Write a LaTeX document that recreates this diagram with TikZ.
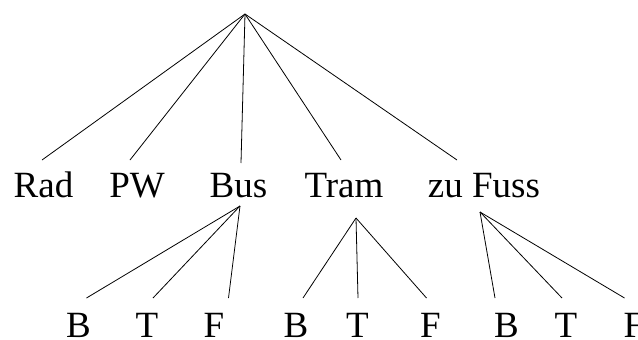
\documentclass[tikz,border=0pt]{standalone}
\usepackage{fontspec}
\setmainfont{Liberation Serif}
\begin{document}
\begin{tikzpicture}[x=1pt,y=-1pt,
  lbl/.style={inner sep=0pt,anchor=base,font=\fontsize{37}{40}\selectfont},
  edge/.style={line width=0.8pt}]
\useasboundingbox (0,0) rectangle (638,340);
% root
\coordinate (root) at (245,14);
% first level labels
\node[lbl] (rad) at (43.5,197) {Rad};
\node[lbl] (pw) at (137,197) {PW};
\node[lbl] (bus) at (238.5,197) {Bus};
\node[lbl] (tram) at (344,197) {Tram};
\node[lbl] (fuss) at (484,197) {zu Fuss};
% line ends above labels
\coordinate (radT) at (42,160);
\coordinate (pwT) at (130,160);
\coordinate (busT) at (241,163);
\coordinate (tramT) at (341,160);
\coordinate (fussT) at (457,160);
\foreach \c in {radT,pwT,busT,tramT,fussT} \draw[edge] (root) -- (\c);
% sub apexes
\coordinate (busA) at (240,206);
\coordinate (tramA) at (356,218);
\coordinate (fussA) at (480,212);
% second level labels
\node[lbl] (b1) at (78.5,337) {B};
\node[lbl] (t1) at (147,337) {T};
\node[lbl] (f1) at (214,337) {F};
\node[lbl] (b2) at (296,337) {B};
\node[lbl] (t2) at (357.5,337) {T};
\node[lbl] (f2) at (430.5,337) {F};
\node[lbl] (b3) at (506.5,337) {B};
\node[lbl] (t3) at (566,337) {T};
\node[lbl] (f3) at (634,337) {F};
% line ends
\coordinate (b1T) at (86.5,298);
\coordinate (t1T) at (153,298);
\coordinate (f1T) at (228.5,298);
\coordinate (b2T) at (303,298);
\coordinate (t2T) at (358,298);
\coordinate (f2T) at (426.5,298);
\coordinate (b3T) at (495,298);
\coordinate (t3T) at (562,298);
\coordinate (f3T) at (624.5,298);
\foreach \c in {b1T,t1T,f1T} \draw[edge] (busA) -- (\c);
\foreach \c in {b2T,t2T,f2T} \draw[edge] (tramA) -- (\c);
\foreach \c in {b3T,t3T,f3T} \draw[edge] (fussA) -- (\c);
\end{tikzpicture}
\end{document}
